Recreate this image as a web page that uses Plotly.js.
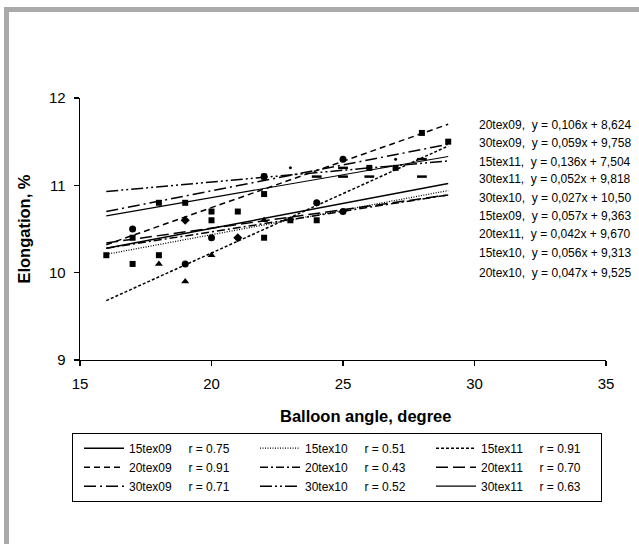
<!DOCTYPE html>
<html>
<head>
<meta charset="utf-8">
<script src="https://cdn.plot.ly/plotly-3.0.1.min.js"></script>
<style>
  html, body { margin: 0; padding: 0; background: #fff; overflow: hidden; }
  #wrap { position: relative; width: 639px; height: 544px; overflow: hidden; }
  #chart { position: absolute; left: 0; top: 0; width: 639px; height: 544px; }
  #frame { position: absolute; left: 4px; top: 7px; width: 630px; height: 532px;
           border-top: 5px solid #aaaaaa; border-left: 5px solid #aaaaaa; pointer-events: none; }
</style>
</head>
<body>
<div id="wrap">
  <div id="chart"></div>
  <div id="frame"></div>
</div>
<script>
// ---- data ----
const seriesNames = ["15tex09", "15tex10", "15tex11", "20tex09", "20tex10", "20tex11", "30tex09", "30tex10", "30tex11"];
const rValues = ["0.75", "0.51", "0.91", "0.91", "0.43", "0.70", "0.71", "0.52", "0.63"];

// trend lines span x = 16 .. 29
const trendX = [16, 29];
const trendStart = [10.28, 10.21, 9.68, 10.32, 10.28, 10.34, 10.70, 10.93, 10.65];
const trendEnd   = [11.02, 10.94, 11.45, 11.70, 10.89, 10.89, 11.47, 11.28, 11.33];

// measured points
const x15tex09 = [19, 21];
const y15tex09 = [10.6, 10.4];
const x15tex10 = [16, 17, 17, 18, 20, 21, 22, 23, 24];
const y15tex10 = [10.2, 10.1, 10.4, 10.2, 10.6, 10.7, 10.4, 10.6, 10.6];
const x15tex11 = [18, 19, 20, 22];
const y15tex11 = [10.1, 9.9, 10.2, 10.6];
const x20tex09 = [17, 19, 20, 22, 24, 25, 25];
const y20tex09 = [10.5, 10.1, 10.4, 11.1, 10.8, 10.7, 11.3];
const x20tex10 = [18, 19, 20, 22, 22, 26, 27, 28, 29];
const y20tex10 = [10.8, 10.8, 10.7, 10.9, 11.1, 11.2, 11.2, 11.6, 11.5];
const x20tex11 = [24, 25, 25, 26, 28, 28];
const y20tex11 = [11.1, 11.1, 11.2, 11.1, 11.1, 11.3];
const x30tex09 = [23, 27];
const y30tex09 = [11.2, 11.3];

const equations = [
  "20tex09,  y = 0,106x + 8,624",
  "30tex09,  y = 0,059x + 9,758",
  "15tex11,  y = 0,136x + 7,504",
  "30tex11,  y = 0,052x + 9,818",
  "30tex10,  y = 0,027x + 10,50",
  "15tex09,  y = 0,057x + 9,363",
  "20tex11,  y = 0,042x + 9,670",
  "15tex10,  y = 0,056x + 9,313",
  "20tex10,  y = 0,047x + 9,525"
];

const xTitle = "Balloon angle, degree";
const yTitle = "Elongation, %";

// ---- styling ----
const FONT = "Liberation Sans, Arial, sans-serif";
const dashes = ["solid", "1px,1.5px", "3px,2px", "6px,4px", "8px,3px,2px,3px", "12px,5px",
                "12px,4px,2px,4px", "12px,3px,2px,3px,2px,3px", "solid"];
const widths = [1.5, 1.3, 1.5, 1.5, 1.5, 1.5, 1.5, 1.5, 1.2];

const pointSets = [
  [x15tex09, y15tex09, "diamond", 7],
  [x15tex10, y15tex10, "square", 6],
  [x15tex11, y15tex11, "triangle-up", 7],
  [x20tex09, y20tex09, "circle", 7],
  [x20tex10, y20tex10, "square", 6],
  [x20tex11, y20tex11, "line-ew", 7],
  [x30tex09, y30tex09, "circle", 3]
];

const traces = [];
pointSets.forEach(p => {
  traces.push({
    x: p[0], y: p[1], type: "scatter", mode: "markers", showlegend: false,
    hoverinfo: "skip",
    marker: { symbol: p[2], size: p[3], color: "#000", line: { color: "#000", width: p[2] === "line-ew" ? 2.5 : 0 } }
  });
});
const SP = "\u00a0\u00a0\u00a0\u00a0\u00a0";
seriesNames.forEach((n, i) => {
  traces.push({
    x: trendX, y: [trendStart[i], trendEnd[i]], type: "scatter", mode: "lines",
    name: n + SP + "r = " + rValues[i],
    line: { color: "#000", width: widths[i], dash: dashes[i] },
    hoverinfo: "skip"
  });
});

const eqY = [0.897, 0.829, 0.757, 0.691, 0.618, 0.550, 0.481, 0.410, 0.333];
const annotations = equations.map((t, i) => ({
  text: t.replace(/ /g, "\u00a0"), xref: "paper", yref: "paper", x: 0.754, y: eqY[i],
  xanchor: "left", yanchor: "middle", showarrow: false,
  font: { family: FONT, size: 12, color: "#000" }
}));
annotations.push({
  text: "<b>" + xTitle + "</b>", xref: "paper", yref: "paper", x: 0.5437, y: -0.2137,
  xanchor: "center", yanchor: "middle", showarrow: false,
  font: { family: FONT, size: 16.5, color: "#000" }
});

const layout = {
  width: 639, height: 544,
  margin: { l: 80, r: 33, t: 98, b: 184 },
  paper_bgcolor: "rgba(0,0,0,0)", plot_bgcolor: "rgba(0,0,0,0)",
  font: { family: FONT, color: "#000" },
  xaxis: {
    range: [15, 35], dtick: 5, tick0: 15, showgrid: false, zeroline: false,
    showline: true, linecolor: "#000", linewidth: 1.3,
    ticks: "outside", ticklen: 5, tickcolor: "#000", tickwidth: 1.3,
    ticklabelstandoff: 5,
    tickfont: { family: FONT, size: 15, color: "#000" }
  },
  yaxis: {
    range: [9, 12], dtick: 1, showgrid: false, zeroline: false,
    showline: true, linecolor: "#000", linewidth: 1.3,
    ticks: "outside", ticklen: 5, tickcolor: "#000", tickwidth: 1.3,
    ticklabelstandoff: 5,
    tickfont: { family: FONT, size: 15, color: "#000" },
    title: { text: "<b>" + yTitle + "</b>", font: { family: FONT, size: 16.5, color: "#000" }, standoff: 14 }
  },
  legend: {
    orientation: "h", x: -0.0152, xanchor: "left", y: -0.2775, yanchor: "top",
    bordercolor: "#000", borderwidth: 1, bgcolor: "#fff",
    font: { family: FONT, size: 12, color: "#000" },
    entrywidth: 115, entrywidthmode: "pixels", itemwidth: 40, indentation: 6,
    traceorder: "normal"
  },
  annotations: annotations,
  showlegend: true
};

Plotly.newPlot("chart", traces, layout, { displayModeBar: false, staticPlot: true });
</script>
</body>
</html>
